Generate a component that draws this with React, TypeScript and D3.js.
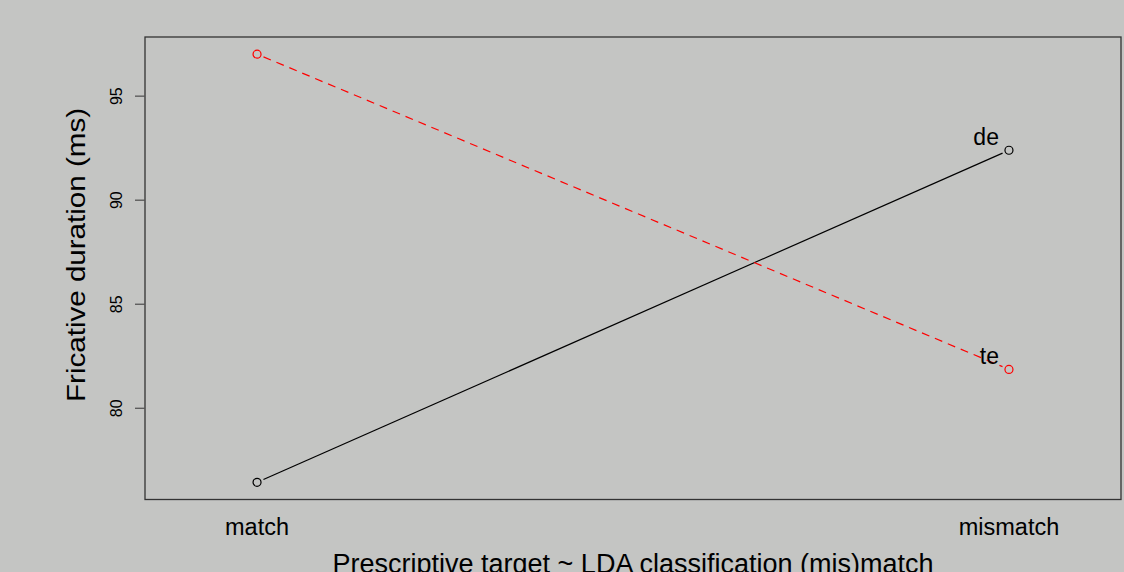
import React from "react";
import * as d3 from "d3";

const categories = ["match", "mismatch"];
const seriesNames = ["de", "te"];
const deValues = [76.44, 92.4];
const teValues = [97.02, 81.87];
const yTicks = [80, 85, 90, 95];

const W = 1124;
const H = 572;
const box = { left: 145, right: 1121, top: 37, bottom: 499.5 };
const BG = "#c4c5c3";
const FONT = "Liberation Sans, Arial, Helvetica, sans-serif";

function shortenedSegments(pts: [number, number][], gap: number) {
  const segs: [number, number, number, number][] = [];
  for (let i = 0; i < pts.length - 1; i++) {
    const [x1, y1] = pts[i];
    const [x2, y2] = pts[i + 1];
    const dx = x2 - x1;
    const dy = y2 - y1;
    const len = Math.hypot(dx, dy);
    const ux = dx / len;
    const uy = dy / len;
    segs.push([x1 + ux * gap, y1 + uy * gap, x2 - ux * gap, y2 - uy * gap]);
  }
  return segs;
}

export default function App() {
  const x = d3.scaleLinear().domain([0.851, 2.149]).range([box.left, box.right]);
  const allVals = [...deValues, ...teValues];
  const mn = d3.min(allVals)!;
  const mx = d3.max(allVals)!;
  const ext = (mx - mn) * 0.04;
  const y = d3.scaleLinear().domain([mn - ext, mx + ext]).range([box.bottom, box.top]);

  const series = [
    { name: seriesNames[0], values: deValues, color: "#000000", dash: undefined as string | undefined },
    { name: seriesNames[1], values: teValues, color: "#ff0000", dash: "8,6" },
  ];

  return (
    <svg
      width={W}
      height={H}
      style={{ position: "absolute", left: 0, top: 0, display: "block" }}
      fontFamily={FONT}
    >
      <rect x={0} y={0} width={W} height={H} fill={BG} />
      {series.map((s) => {
        const pts: [number, number][] = s.values.map((v, i) => [x(i + 1), y(v)]);
        const segs = shortenedSegments(pts, 7);
        return (
          <g key={s.name}>
            {segs.map((sg, k) => (
              <line
                key={k}
                x1={sg[0]}
                y1={sg[1]}
                x2={sg[2]}
                y2={sg[3]}
                stroke={s.color}
                strokeWidth={1.2}
                strokeDasharray={s.dash}
              />
            ))}
            {pts.map((p, k) => (
              <circle key={k} cx={p[0]} cy={p[1]} r={4} fill="none" stroke={s.color} strokeWidth={1.2} />
            ))}
            <text
              x={x(2) - 10}
              y={y(s.values[1]) - 5}
              textAnchor="end"
              fontSize={23}
              fill="#000"
            >
              {s.name}
            </text>
          </g>
        );
      })}
      <rect
        x={box.left}
        y={box.top}
        width={box.right - box.left}
        height={box.bottom - box.top}
        fill="none"
        stroke="#333"
        strokeWidth={1.3}
      />
      {yTicks.map((t) => (
        <g key={t}>
          <line x1={box.left - 10} x2={box.left} y1={y(t)} y2={y(t)} stroke="#555" strokeWidth={1.3} />
          <text
            transform={`translate(${122},${y(t)}) rotate(-90)`}
            textAnchor="middle"
            fontSize={16}
            fill="#000"
          >
            {t}
          </text>
        </g>
      ))}
      {categories.map((c, i) => (
        <text key={c} x={x(i + 1)} y={535} textAnchor="middle" fontSize={23.5} fill="#000">
          {c}
        </text>
      ))}
      <text x={(box.left + box.right) / 2} y={572.5} textAnchor="middle" fontSize={27} fill="#000">
        Prescriptive target ~ LDA classification (mis)match
      </text>
      <text
        transform={`translate(${85},${255}) rotate(-90)`}
        textAnchor="middle"
        fontSize={25}
        textLength={294}
        lengthAdjust="spacingAndGlyphs"
        fill="#000"
      >
        Fricative duration (ms)
      </text>
    </svg>
  );
}
